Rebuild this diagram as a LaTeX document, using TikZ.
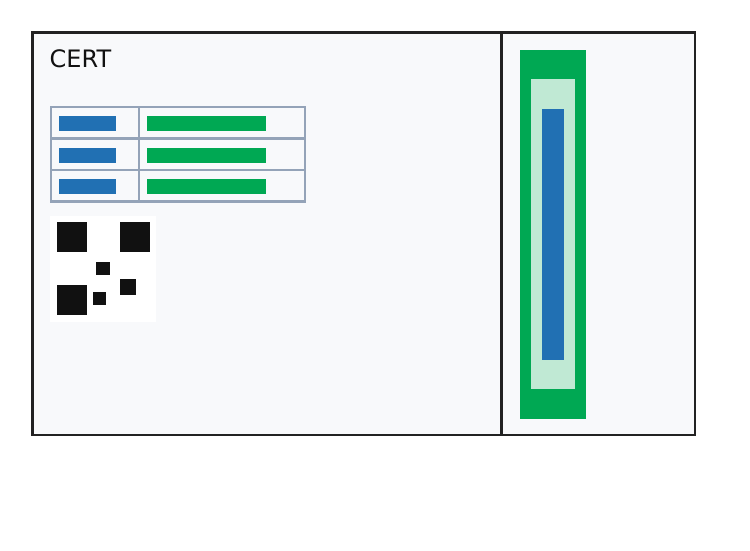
\documentclass[tikz,border=0pt]{standalone}
\usepackage{fontspec}
\setmainfont{DejaVu Sans}
\definecolor{bgfill}{HTML}{F8F9FB}
\definecolor{frame}{HTML}{222222}
\definecolor{grid}{HTML}{94A3B8}
\definecolor{bblue}{HTML}{2170B3}
\definecolor{bgreen}{HTML}{00A853}
\definecolor{lgreen}{HTML}{C0E9D4}
\definecolor{qr}{HTML}{111111}
\tikzset{
  framebox/.style={draw=frame, line width=2.6pt, fill=bgfill},
  cellbox/.style={draw=grid, line width=2.3pt},
  bluebar/.style={fill=bblue},
  greenbar/.style={fill=bgreen},
  qrbox/.style={fill=qr},
}
\begin{document}
\begin{tikzpicture}[x=1pt,y=-1pt]
\useasboundingbox (0,0) rectangle (750,550);
\fill[white] (0,0) rectangle (750,550);
% main frame
\draw[framebox] (32.5,32.5) rectangle (695,435);
\draw[draw=frame, line width=2.6pt] (501.3,32.5) -- (501.3,435);
% title
\node[anchor=base west, inner sep=0pt, text=qr, font=\fontsize{24}{28}\selectfont] (title) at (49.5,67.5) {CERT};
% table
\foreach \t in {107,138.5,170}{
  \draw[cellbox] (51,\t) rectangle (139,\t+31.5);
  \draw[cellbox] (139,\t) rectangle (305,\t+31.5);
  \fill[bluebar] (59,\t+9) rectangle (116,\t+24);
  \fill[greenbar] (147,\t+9) rectangle (266,\t+24);
}
% QR
\fill[white] (50,216) rectangle (156,321.5);
\fill[qrbox] (57,222) rectangle (87,252);
\fill[qrbox] (120,222) rectangle (150,252);
\fill[qrbox] (57,285) rectangle (87,315);
\fill[qrbox] (96,262) rectangle (110,275);
\fill[qrbox] (120,279) rectangle (136,295);
\fill[qrbox] (93,292) rectangle (106,305);
% right panel
\fill[bgreen] (520,50) rectangle (586,419);
\fill[lgreen] (531,79) rectangle (575,389);
\fill[bblue] (542,109) rectangle (564,360);
\end{tikzpicture}
\end{document}
